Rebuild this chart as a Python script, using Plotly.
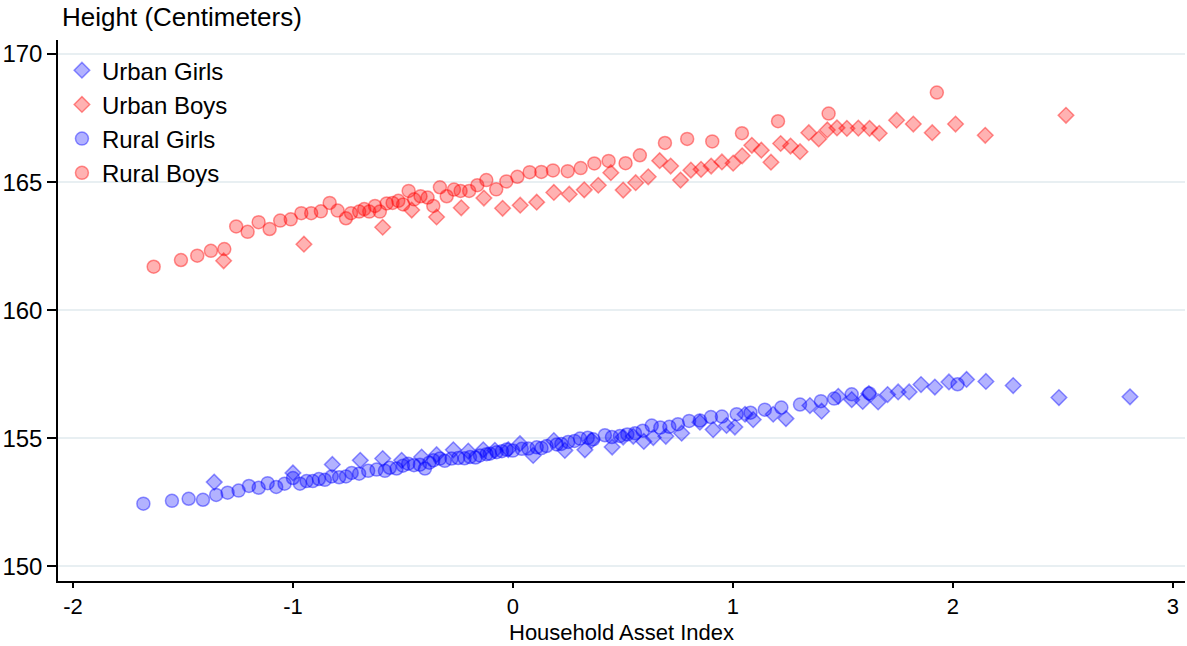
import plotly.graph_objects as go

# ---------------- data ----------------
urban_girls_x = [-1.358, -1.000, -0.821, -0.694, -0.592, -0.506, -0.415, -0.347, -0.271, -0.203,
                 -0.135, -0.082, -0.021, 0.032, 0.092, 0.186, 0.236, 0.327, 0.358, 0.451,
                 0.501, 0.547, 0.595, 0.638, 0.695, 0.767, 0.850, 0.910, 0.971, 1.009,
                 1.055, 1.092, 1.183, 1.241, 1.350, 1.403, 1.479, 1.540, 1.590, 1.618,
                 1.660, 1.703, 1.751, 1.801, 1.855, 1.918, 1.982, 2.062, 2.150, 2.274,
                 2.482, 2.805]
urban_girls_y = [153.29, 153.65, 153.98, 154.14, 154.21, 154.14, 154.27, 154.36, 154.55, 154.50,
                 154.55, 154.53, 154.56, 154.79, 154.33, 154.91, 154.53, 154.55, 154.92, 154.66,
                 155.05, 155.08, 154.88, 155.03, 155.08, 155.20, 155.63, 155.34, 155.50, 155.44,
                 155.94, 155.73, 155.94, 155.77, 156.28, 156.06, 156.64, 156.51, 156.44, 156.75,
                 156.42, 156.71, 156.81, 156.81, 157.10, 157.00, 157.20, 157.30, 157.22, 157.06,
                 156.59, 156.62]

urban_boys_x = [-1.315, -0.950, -0.592, -0.460, -0.347, -0.235, -0.132, -0.047, 0.033, 0.108,
                0.186, 0.256, 0.324, 0.388, 0.445, 0.501, 0.558, 0.615, 0.667, 0.717,
                0.762, 0.809, 0.855, 0.901, 0.950, 1.001, 1.042, 1.086, 1.129, 1.173,
                1.217, 1.262, 1.305, 1.345, 1.390, 1.429, 1.473, 1.518, 1.570, 1.621,
                1.665, 1.744, 1.820, 1.906, 2.012, 2.147, 2.514]
urban_boys_y = [161.93, 162.58, 163.24, 163.91, 163.64, 164.00, 164.38, 163.98, 164.10, 164.22,
                164.60, 164.53, 164.70, 164.88, 165.37, 164.69, 164.98, 165.21, 165.84, 165.63,
                165.08, 165.47, 165.50, 165.63, 165.79, 165.74, 166.03, 166.44, 166.25, 165.78,
                166.51, 166.41, 166.19, 166.93, 166.69, 167.04, 167.12, 167.10, 167.11, 167.10,
                166.91, 167.42, 167.27, 166.93, 167.27, 166.83, 167.61]

rural_girls_x = [-1.680, -1.550, -1.474, -1.409, -1.349, -1.297, -1.247, -1.200, -1.156, -1.115,
                 -1.076, -1.038, -1.000, -0.968, -0.938, -0.910, -0.882, -0.855, -0.824, -0.790,
                 -0.759, -0.733, -0.699, -0.658, -0.620, -0.582, -0.560, -0.529, -0.500, -0.476,
                 -0.450, -0.423, -0.400, -0.380, -0.362, -0.332, -0.310, -0.279, -0.249, -0.220,
                 -0.195, -0.170, -0.150, -0.120, -0.105, -0.074, -0.050, -0.029, 0.000, 0.040,
                 0.070, 0.108, 0.130, 0.153, 0.199, 0.220, 0.251, 0.280, 0.305, 0.340,
                 0.365, 0.418, 0.450, 0.486, 0.520, 0.555, 0.590, 0.631, 0.670, 0.711,
                 0.750, 0.801, 0.850, 0.900, 0.950, 1.017, 1.080, 1.145, 1.220, 1.305,
                 1.400, 1.460, 1.540, 1.620, 2.021]
rural_girls_y = [152.45, 152.56, 152.64, 152.60, 152.79, 152.88, 152.96, 153.14, 153.07, 153.25,
                 153.10, 153.23, 153.45, 153.23, 153.33, 153.33, 153.41, 153.38, 153.51, 153.48,
                 153.51, 153.65, 153.62, 153.73, 153.78, 153.73, 153.85, 153.82, 153.93, 154.01,
                 153.95, 153.97, 153.82, 154.05, 154.14, 154.21, 154.12, 154.21, 154.23, 154.22,
                 154.27, 154.25, 154.33, 154.38, 154.40, 154.46, 154.50, 154.56, 154.52, 154.59,
                 154.60, 154.65, 154.62, 154.70, 154.76, 154.78, 154.86, 154.90, 154.99, 155.02,
                 154.96, 155.12, 155.05, 155.09, 155.15, 155.20, 155.30, 155.50, 155.42, 155.45,
                 155.55, 155.68, 155.70, 155.83, 155.85, 155.94, 156.00, 156.12, 156.20, 156.32,
                 156.45, 156.55, 156.72, 156.75, 157.11]

rural_boys_x = [-1.633, -1.509, -1.435, -1.373, -1.312, -1.258, -1.206, -1.156, -1.106, -1.058,
                -1.010, -0.962, -0.917, -0.873, -0.833, -0.797, -0.759, -0.736, -0.699, -0.676,
                -0.653, -0.627, -0.605, -0.574, -0.547, -0.521, -0.499, -0.474, -0.449, -0.420,
                -0.388, -0.362, -0.332, -0.301, -0.268, -0.238, -0.199, -0.162, -0.121, -0.076,
                -0.030, 0.020, 0.076, 0.129, 0.182, 0.249, 0.308, 0.370, 0.435, 0.512,
                0.577, 0.691, 0.792, 0.906, 1.041, 1.205, 1.435, 1.927]
rural_boys_y = [161.70, 161.96, 162.13, 162.32, 162.39, 163.27, 163.06, 163.44, 163.17, 163.50,
                163.55, 163.79, 163.79, 163.86, 164.19, 163.89, 163.59, 163.79, 163.85, 163.95,
                163.85, 164.07, 163.85, 164.17, 164.19, 164.27, 164.13, 164.66, 164.33, 164.45,
                164.40, 164.07, 164.80, 164.45, 164.71, 164.66, 164.66, 164.88, 165.08, 164.72,
                165.03, 165.21, 165.39, 165.40, 165.46, 165.43, 165.55, 165.73, 165.83, 165.74,
                166.05, 166.53, 166.69, 166.59, 166.91, 167.38, 167.68, 168.50]

x_ticks = [-2, -1, 0, 1, 2, 3]
x_tick_text = ["-2", "-1", "0", "1", "2", "3"]
y_ticks = [150, 155, 160, 165, 170]
y_tick_text = ["150", "155", "160", "165", "170"]

BLUE_FILL = "rgba(0,0,255,0.30)"
BLUE_LINE = "rgba(0,0,255,0.42)"
RED_FILL = "rgba(255,0,0,0.30)"
RED_LINE = "rgba(255,0,0,0.42)"

FONT = "Liberation Sans, Arial, sans-serif"

fig = go.Figure()
fig.add_trace(go.Scatter(x=urban_girls_x, y=urban_girls_y, mode="markers", name="Urban Girls",
                         marker=dict(symbol="diamond", size=12, color=BLUE_FILL,
                                     line=dict(color=BLUE_LINE, width=1.5))))
fig.add_trace(go.Scatter(x=urban_boys_x, y=urban_boys_y, mode="markers", name="Urban Boys",
                         marker=dict(symbol="diamond", size=12, color=RED_FILL,
                                     line=dict(color=RED_LINE, width=1.5))))
fig.add_trace(go.Scatter(x=rural_girls_x, y=rural_girls_y, mode="markers", name="Rural Girls",
                         marker=dict(symbol="circle", size=13, color=BLUE_FILL,
                                     line=dict(color=BLUE_LINE, width=1.5))))
fig.add_trace(go.Scatter(x=rural_boys_x, y=rural_boys_y, mode="markers", name="Rural Boys",
                         marker=dict(symbol="circle", size=13, color=RED_FILL,
                                     line=dict(color=RED_LINE, width=1.5))))

# plot area: top 40 px, bottom 581 px (height 541 px)
fig.update_layout(
    width=1187, height=646,
    margin=dict(l=58, r=2, t=40, b=65),
    paper_bgcolor="white", plot_bgcolor="white",
    font=dict(family=FONT, size=24, color="black"),
    showlegend=True,
    legend=dict(x=0.0035, y=0.985, xanchor="left", yanchor="top",
                bgcolor="rgba(0,0,0,0)", font=dict(size=24), tracegroupgap=0),
    annotations=[
        dict(text="Height (Centimeters)", xref="paper", yref="paper",
             x=0.0015, y=1.0, xanchor="left", yanchor="bottom", yshift=6,
             showarrow=False, font=dict(size=26)),
        dict(text="Household Asset Index", xref="paper", yref="paper",
             x=0.5, y=-0.0952, xanchor="center", yanchor="middle", borderpad=0,
             showarrow=False, font=dict(size=22)),
    ],
)
fig.update_xaxes(range=[-2.068, 3.055], tickvals=x_ticks, ticktext=x_tick_text,
                 showline=True, linecolor="black", linewidth=1.5,
                 ticks="outside", ticklen=5, tickwidth=1.5, tickcolor="black",
                 tickfont=dict(size=22),
                 showgrid=False, zeroline=False)
fig.update_yaxes(range=[149.43, 170.55], tickvals=y_ticks, ticktext=y_tick_text,
                 showline=True, linecolor="black", linewidth=1.5,
                 ticks="outside", ticklen=9, tickwidth=1.5, tickcolor="black",
                 tickfont=dict(size=24),
                 showgrid=True, gridcolor="#e8eff2", gridwidth=1.5, zeroline=False)

fig.write_html("out.html")
